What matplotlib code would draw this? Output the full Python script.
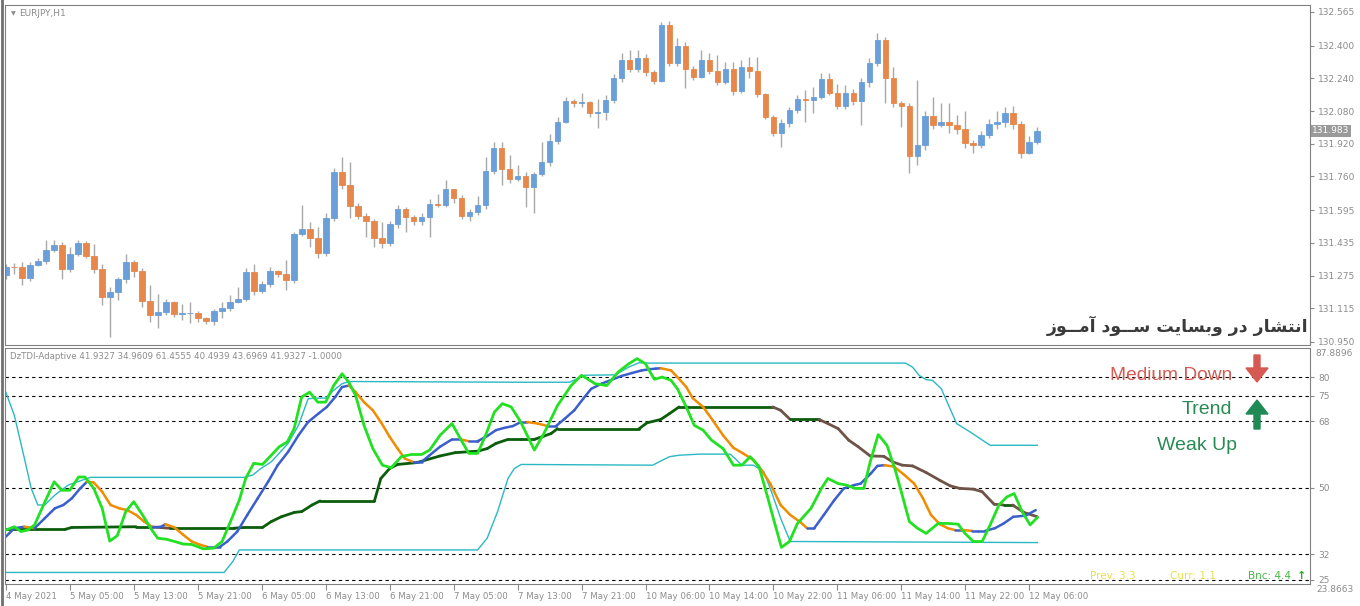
import numpy as np
import matplotlib
matplotlib.use("Agg")
import matplotlib.pyplot as plt
from matplotlib.collections import LineCollection
from matplotlib.patches import FancyArrow
from matplotlib.transforms import IdentityTransform, blended_transform_factory

# ---- price data (EURJPY H1), one value per bar ----
first_open = 131.278
closes = [
    131.318, 131.315, 131.263, 131.327, 131.346, 131.400, 131.425, 131.306, 131.380, 131.433,
    131.372, 131.306, 131.171, 131.193, 131.257, 131.341, 131.299, 131.152, 131.083, 131.095,
    131.145, 131.088, 131.090, 131.090, 131.066, 131.052, 131.100, 131.115, 131.144, 131.160,
    131.292, 131.201, 131.234, 131.297, 131.283, 131.253, 131.478, 131.503, 131.460, 131.387,
    131.555, 131.783, 131.720, 131.617, 131.566, 131.542, 131.460, 131.436, 131.527, 131.599,
    131.563, 131.543, 131.562, 131.625, 131.622, 131.697, 131.656, 131.568, 131.586, 131.619,
    131.785, 131.898, 131.797, 131.749, 131.762, 131.710, 131.772, 131.829, 131.934, 132.025,
    132.129, 132.121, 132.124, 132.069, 132.077, 132.134, 132.240, 132.330, 132.284, 132.338,
    132.270, 132.229, 132.501, 132.314, 132.399, 132.284, 132.248, 132.330, 132.278, 132.224,
    132.284, 132.180, 132.294, 132.278, 132.162, 132.052, 131.971, 132.023, 132.085, 132.138,
    132.134, 132.147, 132.236, 132.170, 132.105, 132.167, 132.129, 132.222, 132.317, 132.428,
    132.243, 132.121, 132.105, 131.862, 131.914, 132.056, 132.012, 132.027, 132.013, 131.994,
    131.925, 131.914, 131.961, 132.017, 132.025, 132.069, 132.017, 131.876, 131.929, 131.983,
]
highs = [
    131.330, 131.335, 131.343, 131.340, 131.360, 131.449, 131.449, 131.440, 131.416, 131.450,
    131.445, 131.428, 131.330, 131.220, 131.270, 131.380, 131.351, 131.310, 131.229, 131.185,
    131.160, 131.150, 131.136, 131.147, 131.100, 131.070, 131.110, 131.147, 131.180, 131.220,
    131.310, 131.331, 131.250, 131.318, 131.300, 131.351, 131.490, 131.620, 131.539, 131.514,
    131.580, 131.800, 131.857, 131.832, 131.630, 131.580, 131.550, 131.539, 131.540, 131.620,
    131.610, 131.570, 131.580, 131.650, 131.674, 131.743, 131.700, 131.670, 131.600, 131.665,
    131.857, 131.930, 131.930, 131.865, 131.816, 131.780, 131.780, 131.930, 131.970, 132.050,
    132.150, 132.140, 132.167, 132.130, 132.140, 132.160, 132.260, 132.365, 132.379, 132.379,
    132.360, 132.280, 132.518, 132.520, 132.438, 132.420, 132.300, 132.379, 132.365, 132.355,
    132.320, 132.320, 132.330, 132.346, 132.345, 132.170, 132.060, 132.040, 132.100, 132.159,
    132.183, 132.199, 132.265, 132.265, 132.213, 132.208, 132.190, 132.240, 132.340, 132.464,
    132.440, 132.297, 132.130, 132.120, 132.232, 132.080, 132.149, 132.120, 132.120, 132.060,
    132.080, 131.940, 131.980, 132.040, 132.080, 132.100, 132.105, 132.030, 131.960, 132.000,
]
lows = [
    131.260, 131.283, 131.229, 131.250, 131.320, 131.330, 131.390, 131.258, 131.290, 131.370,
    131.360, 131.286, 131.131, 130.976, 131.155, 131.240, 131.269, 131.122, 131.049, 131.017,
    131.080, 131.070, 131.057, 131.041, 131.050, 131.040, 131.033, 131.066, 131.100, 131.140,
    131.150, 131.180, 131.190, 131.220, 131.270, 131.204, 131.240, 131.470, 131.416, 131.359,
    131.370, 131.540, 131.700, 131.557, 131.550, 131.465, 131.416, 131.408, 131.420, 131.510,
    131.490, 131.520, 131.520, 131.465, 131.610, 131.610, 131.630, 131.550, 131.542, 131.570,
    131.600, 131.770, 131.718, 131.730, 131.740, 131.612, 131.580, 131.760, 131.810, 131.920,
    132.020, 132.100, 132.100, 132.050, 131.997, 132.036, 132.120, 132.220, 132.270, 132.270,
    132.250, 132.210, 132.220, 132.300, 132.300, 132.193, 132.230, 132.240, 132.260, 132.208,
    132.210, 132.159, 132.170, 132.240, 132.150, 132.040, 131.960, 131.906, 132.002, 132.070,
    132.028, 132.069, 132.140, 132.160, 132.090, 132.090, 132.110, 132.012, 132.200, 132.300,
    132.118, 132.100, 132.004, 131.775, 131.816, 131.890, 131.990, 132.000, 131.973, 131.970,
    131.900, 131.876, 131.900, 131.950, 131.990, 132.000, 131.990, 131.850, 131.870, 131.920,
]
opens = [first_open] + closes[:-1]

price_ticks = [132.565, 132.400, 132.240, 132.080, 131.920, 131.760,
               131.595, 131.435, 131.275, 131.115, 130.950]
last_price = 131.983

time_labels = ["4 May 2021", "5 May 05:00", "5 May 13:00", "5 May 21:00", "6 May 05:00",
               "6 May 13:00", "6 May 21:00", "7 May 05:00", "7 May 13:00", "7 May 21:00",
               "10 May 06:00", "10 May 14:00", "10 May 22:00", "11 May 06:00",
               "11 May 14:00", "11 May 22:00", "12 May 06:00"]

# ---- DzTDI-Adaptive indicator (bar position, value) ----
rsi_x = [0.0, 1.07, 1.9, 2.75, 3.6, 4.9, 6.05, 7.0, 8.0, 9.1,
         9.9, 11.0, 12.05, 13.0, 13.95, 15.0, 16.0, 17.1, 18.1, 19.0,
         20.1, 21.1, 22.2, 23.25, 24.7, 26.0, 27.05, 28.1, 29.2, 30.0,
         31.0, 32.1, 33.2, 34.2, 35.2, 36.05, 37.0, 38.0, 39.0, 40.0,
         41.0, 42.05, 42.9, 43.75, 44.8, 45.9, 47.1, 48.2, 49.45, 50.7,
         52.0, 53.0, 54.3, 55.8, 56.85, 57.9, 59.0, 60.0, 61.1, 62.1, 63.2,
         64.4, 66.1, 67.3, 69.0, 70.7, 72.0, 73.7, 75.15, 76.6, 77.9,
         78.95, 80.0, 81.1, 82.1, 83.2, 84.0, 85.1, 86.1, 87.2, 88.25,
         89.7, 91.0, 92.05, 93.1, 94.2, 95.2, 96.1, 97.0, 98.0, 99.0,
         100.7, 102.0, 102.8, 104.1, 105.15, 106.2, 107.3, 108.1, 109.1, 110.2,
         111.3, 112.1, 113.0, 114.0, 115.1, 116.6, 117.8, 119.1, 119.95, 121.0,
         122.1, 123.1, 124.2, 125.2, 126.1, 127.1, 128.1, 129.0]
rsi_v = [38.5, 39.4, 38.1, 38.5, 39.9, 46.2, 51.6, 49.3, 49.3, 52.9,
         52.9, 49.8, 44.4, 35.5, 37.0, 43.5, 46.2, 42.6, 39.0, 36.3,
         36.0, 35.4, 34.7, 34.6, 33.4, 33.6, 35.4, 40.8, 46.6, 52.5,
         56.6, 56.3, 58.8, 61.1, 62.4, 66.0, 74.6, 75.9, 73.2, 73.2,
         77.7, 80.9, 78.6, 75.0, 66.9, 60.6, 56.1, 55.4, 58.4, 59.0,
         59.0, 60.2, 64.2, 67.4, 63.3, 59.3, 59.3, 64.2, 70.5, 72.8, 71.9,
         67.8, 60.2, 64.7, 72.3, 77.7, 80.5, 78.2, 77.7, 81.4, 83.6,
         85.0, 83.6, 79.4, 80.0, 79.1, 76.8, 71.9, 66.9, 65.6, 62.9,
         60.6, 56.1, 56.1, 58.4, 55.7, 48.0, 40.8, 33.8, 35.4, 40.3,
         44.4, 49.8, 52.5, 51.1, 50.7, 49.8, 49.8, 57.0, 64.4, 61.5,
         54.3, 48.0, 40.8, 39.0, 37.6, 40.3, 40.3, 40.1, 37.6, 35.4,
         35.4, 39.9, 45.3, 47.5, 48.4, 43.5, 39.9, 41.9]

signal_x = [0.0, 1.07, 2.33, 3.6, 4.87, 6.14, 7.2, 8.25, 9.3, 10.15,
            11.0, 12.05, 13.1, 14.2, 15.2, 16.3, 17.3, 18.4, 19.45, 19.95,
            21.1, 22.2, 23.25, 24.3, 25.15, 26.0, 26.8, 27.7, 28.95, 30.2,
            31.5, 32.8, 34.0, 35.3, 36.6, 37.8, 39.1, 40.15, 41.2, 42.05,
            42.9, 43.75, 44.8, 45.9, 46.9, 48.0, 49.0, 49.9, 50.9, 52.0,
            53.0, 54.3, 55.8, 56.85, 57.9, 59.0, 60.2, 61.3, 62.3, 63.4,
            64.4, 65.2, 66.5, 67.8, 68.8, 69.9, 71.1, 72.2, 73.2, 74.5,
            75.8, 77.0, 78.3, 79.5, 80.4, 81.3, 81.9, 83.2, 84.2, 85.1,
            85.9, 87.2, 88.4, 89.7, 91.0, 92.2, 93.5, 94.5, 95.6, 96.9,
            98.1, 99.4, 100.2, 101.1, 102.3, 103.6, 104.8, 106.1, 106.9, 108.2,
            109.0, 109.9, 111.1, 112.4, 113.6, 114.7, 115.7, 116.8, 117.8, 118.7,
            119.5, 120.8, 121.6, 122.5, 123.7, 124.8, 126.0, 127.5, 128.8]
signal_v = [36.7, 39.0, 39.4, 39.0, 41.7, 44.4, 45.3, 47.1, 49.8, 51.6,
            51.4, 48.9, 45.3, 44.4, 43.9, 42.6, 40.8, 39.2, 39.4, 40.1,
            39.2, 37.2, 35.4, 34.5, 34.0, 34.0, 34.0, 35.4, 38.1, 42.6,
            47.1, 51.6, 56.1, 59.7, 64.2, 67.8, 70.1, 71.9, 74.6, 77.3,
            77.7, 75.9, 73.2, 71.0, 67.8, 63.8, 60.6, 57.9, 57.0, 57.0,
            58.8, 61.1, 63.1, 63.1, 62.6, 62.6, 64.0, 65.6, 66.2, 66.7,
            67.8, 67.8, 67.4, 66.7, 66.7, 68.7, 71.0, 74.1, 76.8, 78.2,
            79.3, 80.3, 81.1, 81.8, 82.1, 82.3, 82.4, 81.8, 79.5, 77.3,
            74.3, 71.9, 68.3, 64.2, 60.8, 59.3, 57.5, 54.8, 51.1, 45.3,
            42.6, 40.6, 39.0, 39.0, 42.6, 46.6, 49.8, 50.7, 51.1, 53.9,
            55.9, 56.1, 55.7, 53.4, 51.1, 47.1, 42.6, 40.1, 39.0, 38.5,
            38.5, 38.3, 38.3, 38.3, 39.0, 40.3, 42.1, 42.4, 43.9]

base_x = [0.0, 7.4, 8.25, 16.3, 17.96, 20.5, 28.5, 29.8, 32.1, 33.2,
          34.45, 36.1, 37.0, 38.3, 39.3, 46.1, 46.9, 48.0, 49.0, 51.4,
          54.3, 56.2, 59.0, 60.2, 61.3, 62.8, 64.45, 66.1, 67.3, 68.2,
          69.0, 79.2, 80.2, 81.9, 83.0, 84.2, 95.9, 96.9, 98.1, 101.7,
          102.8, 104.1, 105.4, 106.6, 108.1, 109.8, 110.9, 112.1, 113.4, 115.1,
          116.8, 118.1, 119.3, 121.0, 122.1, 123.6, 124.8, 125.9, 127.3, 129.0]
base_v = [38.7, 38.7, 39.2, 39.4, 39.4, 39.0, 39.0, 39.2, 39.2, 40.8,
          42.1, 43.3, 43.5, 45.3, 46.4, 46.4, 52.5, 55.2, 56.3, 56.8,
          58.6, 59.5, 59.9, 60.6, 62.0, 63.1, 63.1, 63.1, 64.0, 64.7,
          66.0, 66.0, 67.6, 68.5, 70.1, 71.9, 71.9, 71.0, 68.5, 68.5,
          67.4, 66.0, 62.9, 61.1, 58.6, 58.5, 57.0, 56.1, 55.9, 54.1,
          52.0, 50.5, 49.8, 49.6, 48.9, 45.5, 45.3, 45.3, 43.3, 42.1]

upper_x = [0.0, 1.07, 2.33, 3.18, 4.0, 4.87, 6.14, 7.8, 9.5, 10.6,
           29.8, 30.86, 31.9, 33.2, 35.3, 36.6, 37.8, 38.7, 40.0, 41.0,
           42.05, 42.9, 64.4, 70.5, 72.4, 76.2, 77.9, 79.2, 80.4, 112.5,
           113.4, 114.2, 115.1, 115.9, 117.0, 118.9, 120.6, 123.1, 129.0]
upper_v = [75.9, 69.6, 57.9, 49.8, 45.3, 45.3, 48.0, 50.7, 52.0, 52.8,
           52.8, 53.4, 55.2, 57.0, 62.0, 66.9, 74.1, 74.3, 74.3, 76.4,
           78.2, 78.8, 78.6, 78.6, 80.5, 80.6, 82.7, 83.9, 83.8, 83.8,
           82.7, 80.5, 79.3, 79.1, 76.8, 67.4, 65.1, 61.5, 61.5]

lower_x = [0.0, 27.3, 28.4, 29.2, 59.0, 60.2, 61.5, 62.8, 63.6, 64.45,
           80.9, 81.7, 83.0, 84.2, 86.8, 90.6, 91.4, 92.05, 93.5, 94.8,
           95.9, 96.9, 98.1, 129.0]
lower_v = [27.0, 27.0, 30.0, 33.1, 33.1, 36.3, 43.5, 52.5, 55.2, 56.3,
           56.1, 57.0, 58.4, 58.8, 59.1, 59.1, 57.5, 56.1, 56.1, 54.3,
           48.0, 41.7, 35.4, 35.1]

levels = [80, 75, 68, 50, 32, 25]
ind_min, ind_max = 23.8663, 87.8896
ind_header = "DzTDI-Adaptive 41.9327 34.9609 61.4555 40.4939 43.6969 41.9327 -1.0000"

persian_note = "انتشار در وبسایت ســود آمــوز"

# Arabic presentation forms: isolated, final, initial, medial
FORMS = {
    "\u0627": ("\uFE8D", "\uFE8E", None, None),
    "\u0622": ("\uFE81", "\uFE82", None, None),
    "\u0628": ("\uFE8F", "\uFE90", "\uFE91", "\uFE92"),
    "\u062A": ("\uFE95", "\uFE96", "\uFE97", "\uFE98"),
    "\u062F": ("\uFEA9", "\uFEAA", None, None),
    "\u0631": ("\uFEAD", "\uFEAE", None, None),
    "\u0632": ("\uFEAF", "\uFEB0", None, None),
    "\u0633": ("\uFEB1", "\uFEB2", "\uFEB3", "\uFEB4"),
    "\u0634": ("\uFEB5", "\uFEB6", "\uFEB7", "\uFEB8"),
    "\u0645": ("\uFEE1", "\uFEE2", "\uFEE3", "\uFEE4"),
    "\u0646": ("\uFEE5", "\uFEE6", "\uFEE7", "\uFEE8"),
    "\u0648": ("\uFEED", "\uFEEE", None, None),
    "\u064A": ("\uFEF1", "\uFEF2", "\uFEF3", "\uFEF4"),
    "\u06CC": ("\uFBFC", "\uFBFD", "\uFEF3", "\uFEF4"),
}
TATWEEL = "\u0640"


def shape_rtl(s):
    # minimal joining + visual reordering, matplotlib has no bidi shaping
    def dual(ch):
        return ch == TATWEEL or (ch in FORMS and FORMS[ch][2] is not None)

    def joins(ch):
        return ch == TATWEEL or ch in FORMS

    out = []
    for k, ch in enumerate(s):
        if ch not in FORMS:
            out.append(ch)
            continue
        prev = s[k - 1] if k > 0 else " "
        nxt = s[k + 1] if k + 1 < len(s) else " "
        jp = dual(prev)
        jn = dual(ch) and joins(nxt)
        iso, fin, ini, med = FORMS[ch]
        if jp and jn:
            out.append(med)
        elif jp:
            out.append(fin)
        elif jn:
            out.append(ini)
        else:
            out.append(iso)
    return "".join(reversed(out))


def sloped_line(ax, x, v, up_color, down_color, lw):
    x = np.asarray(x)
    v = np.asarray(v)
    pts = np.column_stack([x, v]).reshape(-1, 1, 2)
    segs = np.concatenate([pts[:-1], pts[1:]], axis=1)
    cols = [up_color if d >= 0 else down_color for d in np.diff(v)]
    ax.add_collection(LineCollection(segs, colors=cols, linewidths=lw,
                                     capstyle="round", joinstyle="round"))


W, H = 1360, 606
fig = plt.figure(figsize=(W / 100, H / 100), dpi=100)
fig.patch.set_facecolor("white")

ax1 = fig.add_axes([5 / W, 1 - 345 / H, 1305 / W, 340 / H])
ax2 = fig.add_axes([5 / W, 1 - 584 / H, 1305 / W, 236 / H])

grey = "#8c8c8c"
bull, bear, wick = "#6a9fd8", "#e8874b", "#a8a8a8"

# ---- candles ----
idx = np.arange(len(closes))
o = np.array(opens)
c = np.array(closes)
colors = [bull if cc >= oo else bear for oo, cc in zip(o, c)]
ax1.vlines(idx, lows, highs, color=wick, lw=1, zorder=1)
ax1.bar(idx, np.abs(c - o), bottom=np.minimum(o, c), width=0.72,
        color=colors, edgecolor=colors, linewidth=0.6, zorder=2)

ax1.set_xlim(-0.1, 163.1)
ax1.set_ylim(130.935, 132.599)
ax1.yaxis.tick_right()
ax1.set_yticks(price_ticks)
ax1.set_yticklabels([f"{p:.3f}" for p in price_ticks])
ax1.tick_params(axis="y", direction="out", length=3, color=grey,
                labelcolor=grey, labelsize=6.5, pad=3)
ax1.set_xticks([])
for s in ax1.spines.values():
    s.set_color("#808080")

trans1 = blended_transform_factory(ax1.transAxes, ax1.transData)
ax1.text(1.0015, last_price, f"{last_price:.3f}", transform=trans1, va="center",
         ha="left", fontsize=6.5, color="white",
         bbox=dict(boxstyle="square,pad=0.15", fc="#9a9a9a", ec="none"))
ax1.text(0.011, 0.975, "EURJPY,H1", transform=ax1.transAxes, fontsize=6.5,
         color=grey, va="center", ha="left")
ax1.text(0.0045, 0.975, "\u25BC", transform=ax1.transAxes, fontsize=4.5,
         color=grey, va="center", ha="left")
ax1.text(0.9985, 0.055, shape_rtl(persian_note), transform=ax1.transAxes,
         fontsize=12.5, fontweight="bold", color="#3a3a3a", ha="right",
         va="center", family="DejaVu Sans")

# ---- indicator ----
for lv in levels:
    ax2.axhline(lv, color="black", lw=0.8, ls=(0, (3, 3)), zorder=1)

ax2.plot(upper_x, upper_v, color="#2bb8c4", lw=1.0, zorder=2)
ax2.plot(lower_x, lower_v, color="#2bb8c4", lw=1.0, zorder=2)
sloped_line(ax2, base_x, base_v, "#0b5d0b", "#6e5348", 2.0)
sloped_line(ax2, signal_x, signal_v, "#3a5fcd", "#f08c00", 1.8)
ax2.plot(rsi_x, rsi_v, color="#22e022", lw=2.0, zorder=4,
         solid_joinstyle="round")

ax2.set_xlim(-0.1, 163.1)
ax2.set_ylim(ind_min, ind_max)
ax2.yaxis.tick_right()
ax2.set_yticks(levels)
ax2.set_yticklabels([str(lv) for lv in levels])
ax2.tick_params(axis="y", direction="out", length=3, color=grey,
                labelcolor=grey, labelsize=6.5, pad=3)
ax2.set_xticks(np.arange(0, 8 * len(time_labels), 8))
ax2.set_xticklabels(time_labels, ha="left")
ax2.tick_params(axis="x", direction="out", length=4, color=grey,
                labelcolor=grey, labelsize=6.2, pad=2)
for s in ax2.spines.values():
    s.set_color("#808080")

trans2 = blended_transform_factory(ax2.transAxes, ax2.transData)
ax2.text(1.004, ind_max - 1.6, f"{ind_max:.4f}", transform=trans2, fontsize=6.5,
         color=grey, va="center", ha="left")
# min label sits just under the "25" level label
fig.text(1316 / W, 1 - 590 / H, f"{ind_min:.4f}", fontsize=6.5,
         color=grey, va="center", ha="left")
ax2.text(0.004, 0.965, ind_header, transform=ax2.transAxes, fontsize=6.2,
         color=grey, va="center", ha="left")

# status labels on the right of the indicator pane
fig.text(1232 / W, 1 - 375 / H, "Medium Down", color="#d55a52", fontsize=13.8,
         ha="right", va="center", family="Liberation Sans")
fig.text(1232 / W, 1 - 410 / H, "Trend", color="#2a8a55", fontsize=14,
         ha="right", va="center", family="Liberation Sans")
fig.text(1237 / W, 1 - 446 / H, "Weak Up", color="#2a8a55", fontsize=14,
         ha="right", va="center", family="Liberation Sans")

fig.add_artist(FancyArrow(1257, H - 355, 0, -27, width=6, head_width=22,
                          head_length=14, length_includes_head=True,
                          color="#d55a52", transform=IdentityTransform()))
fig.add_artist(FancyArrow(1257, H - 429, 0, 29, width=6, head_width=22,
                          head_length=14, length_includes_head=True,
                          color="#1f8a55", transform=IdentityTransform()))

fig.text(1090 / W, 1 - 576 / H, "Prev: 3.3", color="#e8e048", fontsize=7.5,
         ha="left", va="center")
fig.text(1170 / W, 1 - 576 / H, "Curr: 1.1", color="#e8e048", fontsize=7.5,
         ha="left", va="center")
fig.text(1248 / W, 1 - 576 / H, "Bnc: 4.4", color="#45b845", fontsize=7.5,
         ha="left", va="center")
fig.text(1297 / W, 1 - 576 / H, "\u2191", color="#22b022", fontsize=8,
         fontweight="bold", ha="left", va="center")

# thin frame line on the far left like the terminal window
fig.add_artist(plt.Line2D([1.5 / W, 1.5 / W], [0.0, 1.0], color="#707070", lw=2,
                          transform=fig.transFigure))

fig.savefig("out.png", dpi=100, facecolor="white")
